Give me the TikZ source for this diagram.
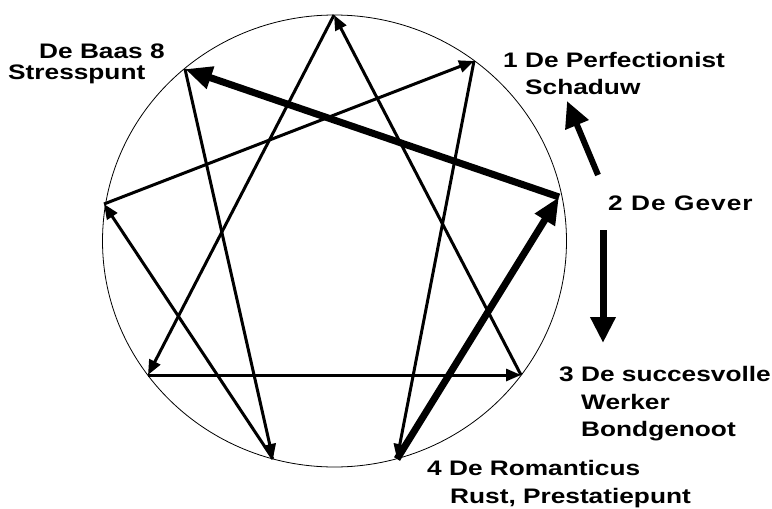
\documentclass[tikz,border=0pt]{standalone}
\usepackage{fontspec}
\newfontfamily\labelfont{Liberation Sans}[FakeStretch=1.25]
\usetikzlibrary{arrows.meta}

\tikzset{
  pointlabel/.style={anchor=base west, inner sep=0pt, align=left,
    font=\labelfont\bfseries\fontsize{21}{27.5}\selectfont},
  ennealine/.style={line width=3pt, -{Triangle[length=15pt,width=12pt]}},
  heavyline/.style={line width=7pt, -{Triangle[length=27pt,width=22pt]}},
  hintarrow/.style={line width=6pt, -{Triangle[length=26pt,width=24pt]}}
}

\begin{document}
\begin{tikzpicture}[x=1pt,y=-1pt]
  \useasboundingbox (0,0) rectangle (772,509);

  \draw[line width=0.8pt] (334.5,241) ellipse [x radius=232pt, y radius=226pt];

  \coordinate (p9) at (334,15);
  \coordinate (p1) at (474,61);
  \coordinate (p2) at (559,197);
  \coordinate (p3) at (521,375);
  \coordinate (p4) at (397,459);
  \coordinate (p5) at (273,459);
  \coordinate (p6) at (148,375);
  \coordinate (p7) at (104,204);
  \coordinate (p8) at (185,69);

  \draw[ennealine] (p9) -- (p6);
  \draw[ennealine] (p6) -- (p3);
  \draw[ennealine] (p3) -- (p9);
  \draw[ennealine] (p1) -- (p4);
  \draw[ennealine] (p8) -- (p5);
  \draw[ennealine] (p5) -- (p7);
  \draw[ennealine] (p7) -- (p1);
  \draw[heavyline] (p4) -- (p2);
  \draw[heavyline] (p2) -- (p8);

  \coordinate (shadowfrom) at (598,175);
  \coordinate (shadowto) at (567,101);
  \coordinate (allyfrom) at (603,230);
  \coordinate (allyto) at (603,343);
  \draw[hintarrow] (shadowfrom) -- (shadowto);
  \draw[hintarrow, line width=7pt] (allyfrom) -- (allyto);

  \node[pointlabel, font=\labelfont\bfseries\fontsize{21}{21}\selectfont]
    (baas) at (8,79.3) {\hspace*{31pt}De Baas 8\\Stresspunt};
  \node[pointlabel] (perfect) at (503,94.5) {1 De Perfectionist\\\hspace*{22pt}Schaduw};
  \node[pointlabel, font=\labelfont\bfseries\fontsize{21}{27.5}\selectfont\addfontfeature{LetterSpace=5}]
    (gever) at (608,210.7) {2 De Gever};
  \node[pointlabel] (werker) at (559,436.7) {3 De succesvolle\\\hspace*{22pt}Werker\\\hspace*{22pt}Bondgenoot};
  \node[pointlabel] (romant) at (427,503) {4 De Romanticus\\\hspace*{23pt}Rust, Prestatiepunt};
\end{tikzpicture}
\end{document}
